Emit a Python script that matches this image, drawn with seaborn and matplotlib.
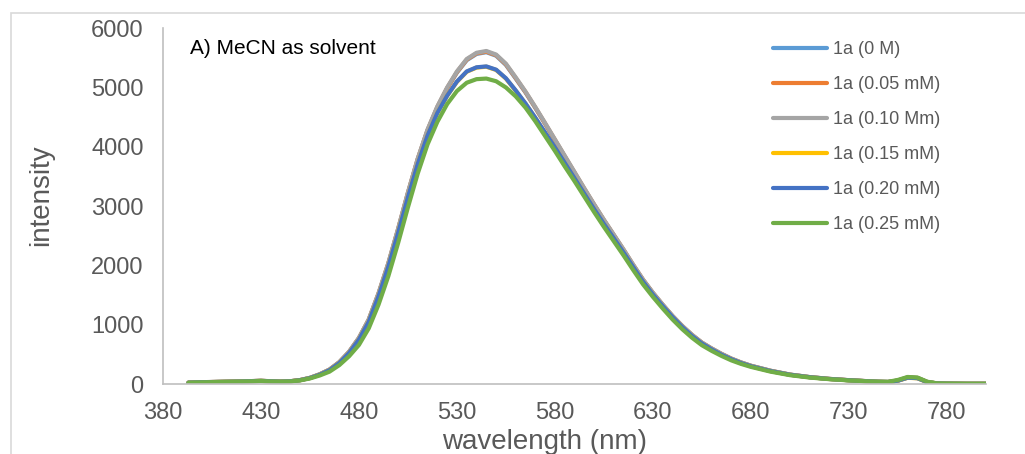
import matplotlib
matplotlib.use("Agg")
import matplotlib.pyplot as plt
import numpy as np
import pandas as pd
import seaborn as sns
from matplotlib.patches import Rectangle

# wavelength grid (nm)
wavelength = [
    393, 400, 410, 420, 425, 430, 435, 440, 445, 450,
    455, 460, 465, 470, 475, 480, 485, 490, 495, 500,
    505, 510, 515, 520, 525, 530, 535, 540, 545, 550,
    555, 560, 565, 570, 575, 580, 585, 590, 595, 600,
    605, 610, 615, 620, 625, 630, 635, 640, 645, 650,
    655, 660, 665, 670, 675, 680,
    690, 700, 710, 720, 730, 740,
    745, 750, 755, 760, 765, 770, 775,
    780, 790, 800,
]

labels = [
    "1a (0 M)",
    "1a (0.05 mM)",
    "1a (0.10 Mm)",
    "1a (0.15 mM)",
    "1a (0.20 mM)",
    "1a (0.25 mM)",
]
colors = ["#5B9BD5", "#ED7D31", "#A5A5A5", "#FFC000", "#4472C4", "#70AD47"]

int_0 = [
    25, 32, 38, 44, 50, 55, 48, 42, 48, 68,
    105, 165, 245, 370, 545, 775, 1085, 1525, 2030, 2610,
    3220, 3790, 4275, 4665, 4985, 5250, 5460, 5565, 5595, 5535,
    5380, 5150, 4915, 4655, 4385, 4110, 3835, 3560, 3285, 3020,
    2760, 2510, 2260, 2000, 1755, 1535, 1335, 1145, 975, 825,
    697, 598, 508, 428, 363, 308,
    224, 159, 117, 87, 65, 47,
    39, 35, 58, 110, 102, 34, 11,
    7, 5, 5,
]
int_005 = [
    25, 32, 38, 44, 50, 55, 48, 42, 48, 68,
    105, 165, 245, 370, 545, 778, 1088, 1528, 2035, 2615,
    3225, 3795, 4280, 4670, 4990, 5260, 5470, 5575, 5602, 5545,
    5390, 5160, 4922, 4662, 4392, 4118, 3842, 3568, 3294, 3026,
    2766, 2516, 2266, 2006, 1758, 1538, 1338, 1148, 978, 828,
    699, 599, 509, 429, 364, 309,
    225, 160, 118, 88, 66, 48,
    40, 36, 59, 112, 104, 35, 12,
    8, 5, 5,
]
int_010 = [
    25, 32, 38, 44, 50, 55, 48, 42, 48, 68,
    105, 165, 245, 370, 545, 780, 1090, 1530, 2040, 2620,
    3230, 3800, 4290, 4680, 5000, 5270, 5480, 5585, 5615, 5555,
    5400, 5170, 4930, 4670, 4400, 4125, 3850, 3575, 3300, 3030,
    2770, 2520, 2270, 2010, 1760, 1540, 1340, 1150, 980, 830,
    700, 600, 510, 430, 365, 310,
    225, 160, 118, 88, 66, 48,
    40, 36, 60, 115, 105, 35, 12,
    8, 5, 5,
]
int_015 = [
    24, 31, 37, 43, 49, 54, 47, 41, 47, 66,
    102, 158, 235, 355, 525, 750, 1050, 1480, 1980, 2550,
    3150, 3710, 4190, 4570, 4860, 5095, 5265, 5335, 5350, 5295,
    5150, 4945, 4725, 4485, 4235, 3985, 3725, 3465, 3205, 2945,
    2695, 2455, 2215, 1965, 1720, 1505, 1310, 1125, 955, 805,
    682, 582, 492, 418, 353, 300,
    218, 156, 115, 85, 64, 46,
    38, 34, 57, 106, 98, 32, 11,
    8, 5, 5,
]
int_020 = [
    24, 31, 37, 43, 49, 54, 47, 41, 47, 66,
    102, 158, 235, 355, 525, 750, 1050, 1480, 1980, 2550,
    3150, 3710, 4190, 4570, 4860, 5100, 5270, 5340, 5355, 5300,
    5155, 4950, 4730, 4490, 4240, 3990, 3730, 3470, 3210, 2950,
    2700, 2460, 2220, 1970, 1725, 1510, 1315, 1130, 960, 810,
    685, 585, 495, 420, 355, 302,
    220, 157, 116, 86, 65, 47,
    39, 35, 58, 108, 100, 33, 11,
    8, 5, 5,
]
int_025 = [
    22, 30, 36, 42, 47, 52, 45, 40, 45, 62,
    95, 145, 210, 320, 470, 660, 940, 1340, 1820, 2380,
    2980, 3550, 4040, 4420, 4720, 4940, 5080, 5140, 5150, 5105,
    5000, 4850, 4660, 4430, 4180, 3930, 3670, 3420, 3160, 2900,
    2650, 2410, 2170, 1920, 1680, 1470, 1275, 1090, 925, 780,
    655, 560, 475, 400, 340, 290,
    210, 150, 110, 83, 62, 46,
    40, 38, 70, 120, 110, 40, 12,
    8, 5, 5,
]

series = [int_0, int_005, int_010, int_015, int_020, int_025]

df = pd.concat(
    [
        pd.DataFrame({"wavelength": wavelength, "intensity": vals, "sample": lab})
        for lab, vals in zip(labels, series)
    ],
    ignore_index=True,
)

sns.set_style("white")
plt.rcParams["font.family"] = ["Liberation Sans", "DejaVu Sans"]

fig = plt.figure(figsize=(10.25, 4.54), dpi=100)
ax = fig.add_axes([0.159, 0.154, 0.803, 0.784])

sns.lineplot(
    data=df,
    x="wavelength",
    y="intensity",
    hue="sample",
    hue_order=labels,
    palette=colors,
    estimator=None,
    sort=False,
    linewidth=3,
    ax=ax,
)
for line in ax.get_lines():
    line.set_solid_joinstyle("round")
    line.set_solid_capstyle("round")

ax.set_xlim(380, 800)
ax.set_ylim(0, 6000)
ax.set_xticks(np.arange(380, 781, 50))
ax.set_yticks(np.arange(0, 6001, 1000))
ax.tick_params(axis="both", length=0, labelsize=17, labelcolor="#595959")
ax.tick_params(axis="y", pad=14)
ax.tick_params(axis="x", pad=13)

for side in ["top", "right"]:
    ax.spines[side].set_visible(False)
for side in ["left", "bottom"]:
    ax.spines[side].set_color("#BFBFBF")
    ax.spines[side].set_linewidth(1.2)

ax.set_xlabel("wavelength (nm)", fontsize=20, color="#595959")
ax.set_ylabel("intensity", fontsize=20, color="#595959")
ax.xaxis.set_label_coords(0.463, -0.125)
ax.yaxis.set_label_coords(-0.132, 0.53)

ax.text(0.033, 0.97, "A) MeCN as solvent", transform=ax.transAxes,
        fontsize=15, color="black", va="top", ha="left")

handles, labs = ax.get_legend_handles_labels()
ax.legend(
    handles, labs,
    loc="upper left",
    bbox_to_anchor=(773 / 1025, 1 - 41 / 454),
    bbox_transform=fig.transFigure,
    frameon=False,
    fontsize=13,
    labelcolor="#595959",
    handlelength=3.0,
    handletextpad=0.3,
    labelspacing=1.0,
    borderpad=0,
    borderaxespad=0,
)

# outer chart border (partly cropped in the original)
fig.add_artist(Rectangle((11 / 1025, -0.1), 1.2, 0.9714 + 0.1,
                         transform=fig.transFigure, fill=False,
                         edgecolor="#D9D9D9", linewidth=1.2))

fig.savefig("out.png", dpi=100)
